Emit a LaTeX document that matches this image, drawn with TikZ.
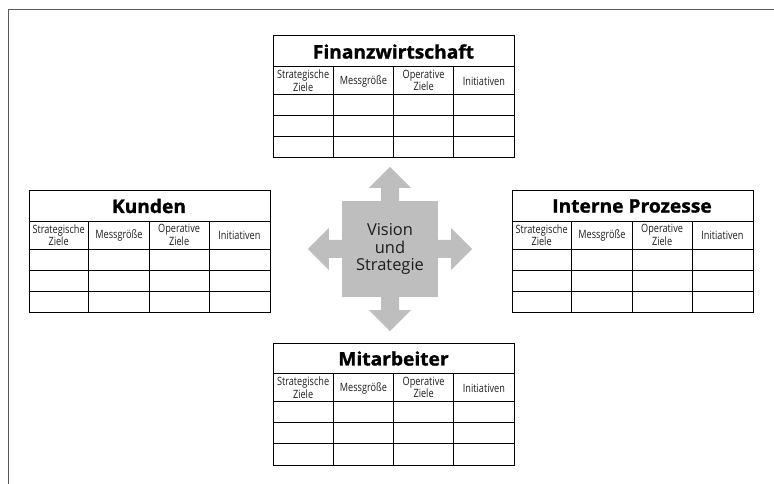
\documentclass[tikz,border=0pt]{standalone}
\usepackage{fontspec}
\setmainfont{Open Sans}
\newfontfamily\condfont[FakeStretch=0.8]{Open Sans}
\newfontfamily\titlefont[FakeStretch=1.03,FakeBold=1.3]{Open Sans}
\definecolor{arrowgray}{RGB}{190,190,190}
\definecolor{framegray}{RGB}{90,90,90}
\definecolor{txtgray}{RGB}{30,30,30}
\tikzset{
  tabframe/.style={draw=black, line width=0.8bp, minimum width=241bp, minimum height=122bp, inner sep=0pt},
  gridline/.style={draw=black, line width=0.8bp},
  titletext/.style={font=\titlefont\bfseries\fontsize{18.7}{19}\selectfont, inner sep=0pt, text=black},
  headtext/.style={font=\condfont\fontsize{11.5}{10.5}\selectfont, align=center, inner sep=0pt, text=txtgray},
  centerbox/.style={fill=arrowgray, minimum width=96bp, minimum height=96bp, inner sep=0pt,
     font=\fontsize{16.5}{17.5}\selectfont, align=center, text=txtgray},
  arrowfill/.style={fill=arrowgray, draw=none},
  framestyle/.style={draw=framegray, line width=0.8bp}
}
\newcommand\bsctab[4]{%
  \begin{scope}[shift={(#2,#3)}]
    \node[tabframe, anchor=north west] (#1) at (0,0) {};
    \node[titletext] (#1-title) at (120.5,16) {#4};
    \draw[gridline] (0,31) -- (241,31);
    \draw[gridline] (0,59) -- (241,59);
    \draw[gridline] (0,80) -- (241,80);
    \draw[gridline] (0,101) -- (241,101);
    \draw[gridline] (60.25,31) -- (60.25,122);
    \draw[gridline] (120.5,31) -- (120.5,122);
    \draw[gridline] (180.75,31) -- (180.75,122);
    \node[headtext] (#1-h1) at (30.1,45) {Strategische\\Ziele};
    \node[headtext] (#1-h2) at (90.4,45.5) {Messgröße};
    \node[headtext] (#1-h3) at (150.6,45) {Operative\\Ziele};
    \node[headtext] (#1-h4) at (210.9,45.5) {Initiativen};
  \end{scope}}
\begin{document}
\begin{tikzpicture}[x=1bp,y=-1bp]
\useasboundingbox (0,0) rectangle (774,484);
% outer frame (cropped)
\coordinate (frA) at (774,9);
\coordinate (frB) at (8,484);
\draw[framestyle] (frA) -| (frB);
% center
\node[centerbox] (vision) at (390,249) {Vision\\und\\Strategie};
% arrows (shifts are in page directions)
\fill[arrowfill] ([xshift=-9bp]vision.north) -- ([xshift=-9bp,yshift=13bp]vision.north) -- ([xshift=-21bp,yshift=13bp]vision.north) -- ([yshift=34bp]vision.north) -- ([xshift=21bp,yshift=13bp]vision.north) -- ([xshift=9bp,yshift=13bp]vision.north) -- ([xshift=9bp]vision.north) -- cycle;
\fill[arrowfill] ([xshift=-9bp]vision.south) -- ([xshift=-9bp,yshift=-13bp]vision.south) -- ([xshift=-21bp,yshift=-13bp]vision.south) -- ([yshift=-34bp]vision.south) -- ([xshift=21bp,yshift=-13bp]vision.south) -- ([xshift=9bp,yshift=-13bp]vision.south) -- ([xshift=9bp]vision.south) -- cycle;
\fill[arrowfill] ([yshift=9bp]vision.west) -- ([xshift=-13bp,yshift=9bp]vision.west) -- ([xshift=-13bp,yshift=21bp]vision.west) -- ([xshift=-34bp]vision.west) -- ([xshift=-13bp,yshift=-21bp]vision.west) -- ([xshift=-13bp,yshift=-9bp]vision.west) -- ([yshift=-9bp]vision.west) -- cycle;
\fill[arrowfill] ([yshift=9bp]vision.east) -- ([xshift=13bp,yshift=9bp]vision.east) -- ([xshift=13bp,yshift=21bp]vision.east) -- ([xshift=34bp]vision.east) -- ([xshift=13bp,yshift=-21bp]vision.east) -- ([xshift=13bp,yshift=-9bp]vision.east) -- ([yshift=-9bp]vision.east) -- cycle;
% tables
\bsctab{fin}{273}{35.5}{Finanzwirtschaft}
\bsctab{kun}{28.5}{190}{Kunden}
\bsctab{int}{511.5}{190}{Interne Prozesse}
\bsctab{mit}{273}{342.5}{Mitarbeiter}
\end{tikzpicture}
\end{document}
